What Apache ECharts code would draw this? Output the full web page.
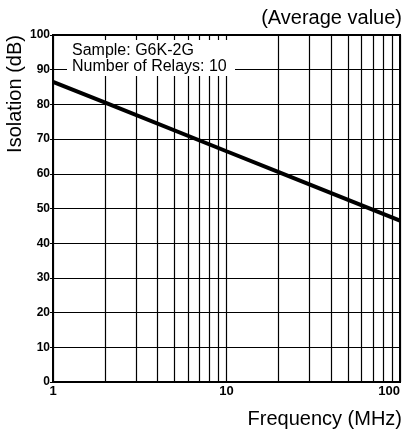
<!DOCTYPE html>
<html><head><meta charset="utf-8">
<script src="https://cdn.jsdelivr.net/npm/echarts@6/dist/echarts.min.js"></script>
<style>html,body{margin:0;padding:0;background:#fff}#c{width:402px;height:433px}</style>
</head><body><div id="c"></div>
<script>
// Data
const freqMHz = [1, 2, 10, 20, 100];
const isolationDb = [86.5, 80.5, 66.5, 60.5, 46.5];
const minorFreqs = [2,3,4,5,6,7,8,9,20,30,40,50,60,70,80,90];
const yTicks = [0,10,20,30,40,50,60,70,80,90,100];

const chart = echarts.init(document.getElementById('c'), null, {renderer:'canvas'});
const font = 'Liberation Sans, Arial, Helvetica, sans-serif';
chart.setOption({
  animation:false,
  backgroundColor:'#fff',
  grid:{left:53, right:2, top:35, bottom:51, show:true, borderColor:'#000', borderWidth:2,
    containLabel:false, outerBoundsMode:'none'},
  xAxis:{type:'log', logBase:10, min:1, max:100,
    axisLine:{show:true, lineStyle:{color:'#000', width:2}},
    axisTick:{show:false},
    axisLabel:{color:'#000', fontFamily:font, fontSize:13, fontWeight:'bold', margin:3, alignMaxLabel:'right'},
    splitLine:{show:true, lineStyle:{color:'#000', width:1.2}}
  },
  yAxis:{type:'value', min:0, max:100, interval:10,
    axisLine:{show:true, lineStyle:{color:'#000', width:2}},
    axisTick:{show:true, inside:false, length:3, lineStyle:{color:'#000'}},
    axisLabel:{color:'#000', fontFamily:font, fontSize:12, fontWeight:'bold', margin:3,
      formatter:v=>yTicks.includes(v)?String(v):''},
    splitLine:{show:true, lineStyle:{color:'#000', width:1.2}}
  },
  graphic:[
    {type:'text', right:0, top:8, style:{text:'(Average value)', font:'20px '+font, fill:'#000'}},
    {type:'text', right:0, top:409, style:{text:'Frequency (MHz)', font:'20px '+font, fill:'#000'}},
    {type:'text', x:5, y:94, rotation:Math.PI/2, style:{text:'Isolation (dB)', font:'20px '+font, fill:'#000', align:'center', verticalAlign:'top'}},
    {type:'rect', left:67, top:40, shape:{width:168, height:36}, style:{fill:'#fff'}, z:100},
    {type:'text', left:72, top:43, z:101, style:{text:'Sample: G6K-2G\nNumber of Relays: 10', font:'16px '+font, fill:'#000', lineHeight:16}}
  ],
  series:[{
    type:'line', data:freqMHz.map((f,i)=>[f,isolationDb[i]]),
    showSymbol:false, symbol:'none', lineStyle:{color:'#000', width:4}, z:5,
    markLine:{silent:true, symbol:'none', label:{show:false},
      lineStyle:{color:'#000', width:1.2, type:'solid'},
      data:minorFreqs.map(f=>({xAxis:f}))}
  }]
});
</script></body></html>
